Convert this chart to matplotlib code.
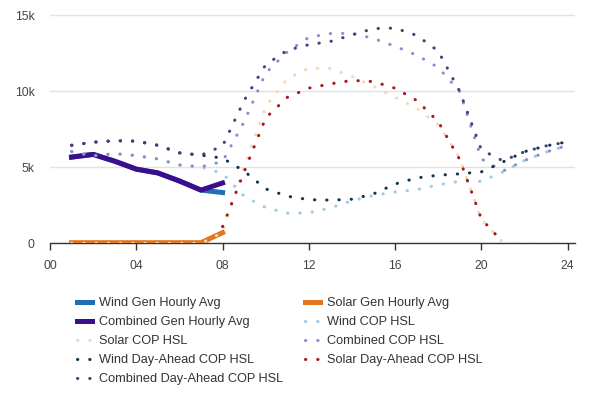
import numpy as np
import matplotlib
matplotlib.use("Agg")
import matplotlib.pyplot as plt
from matplotlib.lines import Line2D

plt.rcParams['font.family'] = ['Liberation Sans', 'DejaVu Sans']

# actual generation, hours 1..8
gen_hours = np.arange(1, 9)
wind_gen = [5670, 5850, 5400, 4880, 4630, 4100, 3500, 3340]
solar_gen = [40, 40, 40, 40, 40, 40, 40, 700]
combined_gen = [5670, 5850, 5400, 4880, 4630, 4100, 3500, 3970]

# forecasts, hours 1..24
hours = np.arange(1, 25)
nan = np.nan
wind_cop = [6040, 5760, 5900, 5770, 5550, 5150, 5030, 4600, 3100, 2350, 1980, 2000,
            2330, 2800, 3150, 3380, 3530, 3850, 4080, 4080, 4700, 5450, 6000, 6450]
solar_cop = [0, 0, 0, 0, 0, 0, 0, 700, 5000, 9000, 10830, 11520,
             11500, 10980, 10330, 9600, 8900, 7800, 5600, 1550, 60, 0, 0, 0]
combined_cop = [6040, 5760, 5900, 5770, 5550, 5150, 5030, 5380, 8000, 11200, 12600, 13550,
                13800, 13820, 13480, 12960, 12380, 11570, 9980, 5550, 4750, 5450, 6000, 6450]
wind_da = [6450, 6650, 6750, 6720, 6450, 5950, 5800, 5600, 4750, 3580, 3100, 2870,
           2840, 2900, 3250, 3900, 4300, 4480, 4570, 4700, 5350, 6030, 6410, 6680]
solar_da = [nan, nan, nan, nan, nan, nan, nan, 1100, 4700, 8250, 9600, 10210,
            10490, 10720, 10640, 10200, 9400, 8000, 5500, 1600, 60, nan, nan, nan]
combined_da = [6450, 6650, 6750, 6720, 6450, 5950, 5800, 6400, 9400, 11750, 12700, 13070,
               13280, 13710, 14130, 14160, 13680, 12650, 9980, 6150, 5420, 6030, 6410, 6680]

labels = ["Wind Gen Hourly Avg", "Solar Gen Hourly Avg", "Combined Gen Hourly Avg",
          "Wind COP HSL", "Solar COP HSL", "Combined COP HSL",
          "Wind Day-Ahead COP HSL", "Solar Day-Ahead COP HSL", "Combined Day-Ahead COP HSL"]
colors = ["#1f6db5", "#e0761f", "#3b0f8c",
          "#9dcbe3", "#f7d6b6", "#8e8ccf",
          "#0e3651", "#a3181b", "#41407f"]

fig = plt.figure(figsize=(5.92, 3.94), dpi=100)
ax = fig.add_axes([50 / 592, 150.7 / 394, 525 / 592, 229.5 / 394])

dot = (0, (0.1, 3.9))
solid = [wind_gen, solar_gen, combined_gen]
dotted = [wind_cop, solar_cop, combined_cop, wind_da, solar_da, combined_da]

handles = []
for i, ys in enumerate(solid):
    ax.plot(gen_hours, ys, color=colors[i], lw=3.6, solid_joinstyle="round", zorder=3)
    handles.append(Line2D([], [], color=colors[i], lw=3.6))
for j, ys in enumerate(dotted):
    c = colors[3 + j]
    ax.plot(hours, ys, color=c, lw=2.2, linestyle=dot, dash_capstyle="round", zorder=4)
    handles.append(Line2D([], [], color=c, lw=2.2, linestyle=dot, dash_capstyle="round"))

ax.set_xlim(0, 24.34)
ax.set_ylim(0, 15100)
ax.set_xticks(range(0, 25, 4))
ax.set_xticklabels([f"{h:02d}" for h in range(0, 25, 4)])
ax.set_yticks([0, 5000, 10000, 15000])
ax.set_yticklabels(["0", "5k", "10k", "15k"])
ax.tick_params(axis="y", length=0, pad=11, labelsize=8.7, labelcolor="#444444")
ax.tick_params(axis="x", length=5, width=1, color="#333333", pad=7,
               labelsize=8.7, labelcolor="#444444")
ax.grid(axis="y", color="#e2e2e2", lw=1)
ax.set_axisbelow(True)
for s in ["top", "right", "left"]:
    ax.spines[s].set_visible(False)
ax.spines["bottom"].set_color("#333333")
ax.spines["bottom"].set_linewidth(1)

# legend laid out row-major in two columns
left = [0, 2, 4, 6, 8]
right = [1, 3, 5, 7]
kw = dict(frameon=False, fontsize=9.2, handlelength=1.2, handletextpad=0.5,
          labelspacing=0.55, loc="upper left", borderaxespad=0, borderpad=0,
          labelcolor="#333333")
fig.legend([handles[k] for k in left], [labels[k] for k in left],
           bbox_to_anchor=(77 / 592, 1 - 297 / 394), **kw)
fig.legend([handles[k] for k in right], [labels[k] for k in right],
           bbox_to_anchor=(305 / 592, 1 - 297 / 394), **kw)

fig.savefig("out.png", dpi=100)
